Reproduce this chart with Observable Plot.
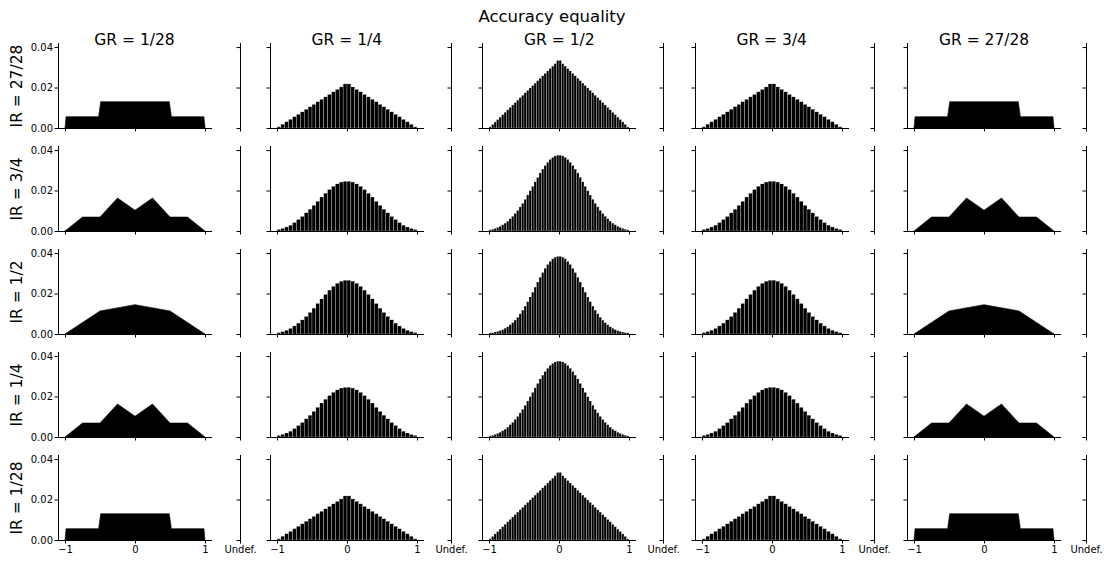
<!DOCTYPE html>
<html>
<head>
<meta charset="utf-8">
<script src="https://cdn.jsdelivr.net/npm/d3@7"></script>
<script src="https://cdn.jsdelivr.net/npm/@observablehq/plot@0.6"></script>
<style>
  html, body { margin: 0; padding: 0; background: white; }
  #chart { position: relative; width: 1104px; height: 561px; font-family: "DejaVu Sans", sans-serif; color: black; overflow: hidden; }
  .lbl { position: absolute; white-space: nowrap; transform: translate(-50%, -50%); line-height: 1; }
</style>
</head>
<body>
<div id="chart"></div>
<script>
// ---------- data ----------
const chartTitle = "Accuracy equality";
const grLabels = ["1/28", "1/4", "1/2", "3/4", "27/28"];
const irLabels = ["27/28", "3/4", "1/2", "1/4", "1/28"];
const undefLabel = "Undef.";
const xTicks = [-1, 0, 1];
const yTicks = [0, 0.02, 0.04];

// GR = 1/28 (and 27/28): outline of the densely binned histogram
const narrowGR_extremeIR_x = [-1, -0.985, -0.52, -0.49, 0.49, 0.52, 0.985, 1];
const narrowGR_extremeIR_y = [0, 0.0056, 0.0056, 0.0130, 0.0130, 0.0056, 0.0056, 0];
const narrowGR_midIR_x = [-1, -0.75, -0.5, -0.25, 0, 0.25, 0.5, 0.75, 1];
const narrowGR_midIR_y = [0, 0.0069, 0.0069, 0.0163, 0.0103, 0.0163, 0.0069, 0.0069, 0];
const narrowGR_evenIR_x = [-1, -0.5, 0, 0.5, 1];
const narrowGR_evenIR_y = [0, 0.0114, 0.0145, 0.0114, 0];

// GR = 1/4 (and 3/4): 36 bins on [-1, 1]
const quarterGR_extremeIR = [
  0.0006,0.0019,0.0031,0.0043,0.0056,0.0068,0.0080,0.0093,0.0105,0.0117,0.0130,0.0142,0.0154,0.0166,0.0179,0.0191,0.0203,0.0218,
  0.0218,0.0203,0.0191,0.0179,0.0166,0.0154,0.0142,0.0130,0.0117,0.0105,0.0093,0.0080,0.0068,0.0056,0.0043,0.0031,0.0019,0.0006];
const quarterGR_midIR = [
  0.0008,0.0013,0.0020,0.0029,0.0042,0.0057,0.0072,0.0090,0.0108,0.0127,0.0147,0.0168,0.0187,0.0205,0.0221,0.0233,0.0242,0.0246,
  0.0246,0.0242,0.0233,0.0221,0.0205,0.0187,0.0168,0.0147,0.0127,0.0108,0.0090,0.0072,0.0057,0.0042,0.0029,0.0020,0.0013,0.0008];
const quarterGR_evenIR = [
  0.0007,0.0012,0.0019,0.0028,0.0040,0.0054,0.0070,0.0087,0.0107,0.0128,0.0151,0.0174,0.0196,0.0217,0.0236,0.0251,0.0261,0.0266,
  0.0266,0.0261,0.0251,0.0236,0.0217,0.0196,0.0174,0.0151,0.0128,0.0107,0.0087,0.0070,0.0054,0.0040,0.0028,0.0019,0.0012,0.0007];

// GR = 1/2: 56 bins on [-1, 1]
const halfGR_extremeIR = [
  0.0006,0.0018,0.0030,0.0042,0.0054,0.0066,0.0078,0.0090,0.0102,0.0114,0.0126,0.0138,0.0150,0.0162,
  0.0174,0.0186,0.0198,0.0210,0.0222,0.0234,0.0246,0.0258,0.0270,0.0282,0.0294,0.0306,0.0318,0.0334,
  0.0334,0.0318,0.0306,0.0294,0.0282,0.0270,0.0258,0.0246,0.0234,0.0222,0.0210,0.0198,0.0186,0.0174,
  0.0162,0.0150,0.0138,0.0126,0.0114,0.0102,0.0090,0.0078,0.0066,0.0054,0.0042,0.0030,0.0018,0.0006];
const halfGR_midIR = [
  0.0006,0.0009,0.0013,0.0018,0.0024,0.0031,0.0039,0.0049,0.0061,0.0073,0.0087,0.0102,0.0119,0.0137,
  0.0157,0.0178,0.0199,0.0221,0.0243,0.0265,0.0287,0.0306,0.0324,0.0340,0.0354,0.0364,0.0371,0.0375,
  0.0375,0.0371,0.0364,0.0354,0.0340,0.0324,0.0306,0.0287,0.0265,0.0243,0.0221,0.0199,0.0178,0.0157,
  0.0137,0.0119,0.0102,0.0087,0.0073,0.0061,0.0049,0.0039,0.0031,0.0024,0.0018,0.0013,0.0009,0.0006];
const halfGR_evenIR = [
  0.0006,0.0007,0.0010,0.0013,0.0017,0.0022,0.0029,0.0036,0.0046,0.0056,0.0069,0.0083,0.0100,0.0118,
  0.0138,0.0160,0.0183,0.0207,0.0232,0.0257,0.0281,0.0304,0.0325,0.0344,0.0359,0.0372,0.0380,0.0384,
  0.0384,0.0380,0.0372,0.0359,0.0344,0.0325,0.0304,0.0281,0.0257,0.0232,0.0207,0.0183,0.0160,0.0138,
  0.0118,0.0100,0.0083,0.0069,0.0056,0.0046,0.0036,0.0029,0.0022,0.0017,0.0013,0.0010,0.0007,0.0006];

// Undefined counts (all zero)
const undefValues = [0, 0, 0, 0, 0];

// ---------- lookup tables built from the arrays ----------
const narrowShapes = [
  narrowGR_extremeIR_x.map((x, i) => ({x, y: narrowGR_extremeIR_y[i]})),
  narrowGR_midIR_x.map((x, i) => ({x, y: narrowGR_midIR_y[i]})),
  narrowGR_evenIR_x.map((x, i) => ({x, y: narrowGR_evenIR_y[i]}))
];
const quarterShapes = [quarterGR_extremeIR, quarterGR_midIR, quarterGR_evenIR];
const halfShapes = [halfGR_extremeIR, halfGR_midIR, halfGR_evenIR];
const colKind = [0, 1, 2, 1, 0];   // which GR family
const rowKind = [0, 1, 2, 1, 0];   // which IR family

function toBins(vals) {
  const n = vals.length, w = 2 / n;
  return vals.map((v, i) => ({x1: -1 + i * w, x2: -1 + (i + 1) * w, y: v}));
}

// ---------- layout ----------
const mainSpineX = [57.5, 269.9, 482.3, 694.7, 907.1];
const undefSpineX = [240, 451.4, 662.8, 874.2, 1085.6];
const rowBaseY = [128, 231, 334, 437, 540];
const plotH = 85, plotW = 154;
const mT = 4, mB = 18, mL = 40, mR = 4;

const baseStyle = {background: "transparent", overflow: "visible", fontFamily: "DejaVu Sans, sans-serif", fontSize: "10px", color: "black"};
const minusFmt = d => (d < 0 ? "\u2212" + Math.abs(d) : String(d));
const blank = () => "";

const chart = document.getElementById("chart");

function place(el, left, top) {
  el.style.position = "absolute";
  el.style.left = left + "px";
  el.style.top = top + "px";
  chart.appendChild(el);
}

for (let ri = 0; ri < 5; ri++) {
  for (let ci = 0; ci < 5; ci++) {
    const bottom = ri === 4, left = ci === 0;
    const kind = colKind[ci], rk = rowKind[ri];
    const marks = [];
    if (kind === 0) {
      marks.push(Plot.areaY(narrowShapes[rk], {x: "x", y: "y", fill: "black", stroke: "black", strokeWidth: 0.6}));
    } else {
      const vals = kind === 1 ? quarterShapes[rk] : halfShapes[rk];
      marks.push(Plot.rectY(toBins(vals), {x1: "x1", x2: "x2", y: "y", fill: "black", stroke: "white", strokeWidth: 0.3, strokeOpacity: 0.9}));
    }
    marks.push(Plot.ruleX([-1.1], {stroke: "black", strokeWidth: 1}));
    marks.push(Plot.ruleY([0], {stroke: "black", strokeWidth: 1}));
    marks.push(Plot.axisY({ticks: yTicks, tickSize: 3.5, tickPadding: 2, tickFormat: left ? (d => d.toFixed(2)) : blank, label: null}));
    marks.push(Plot.axisX({ticks: xTicks, tickSize: 3.5, tickPadding: 2, tickFormat: bottom ? minusFmt : blank, label: null}));
    const svg = Plot.plot({
      width: mL + plotW + mR, height: mT + plotH + mB,
      marginLeft: mL, marginRight: mR, marginTop: mT, marginBottom: mB,
      x: {domain: [-1.1, 1.1], label: null},
      y: {domain: [0, 0.042], label: null},
      style: baseStyle,
      marks
    });
    place(svg, mainSpineX[ci] - mL, rowBaseY[ri] - plotH - mT);

    // undefined-value panel
    const uw = 60, ul = 30;
    const usvg = Plot.plot({
      width: uw, height: mT + plotH + mB,
      marginLeft: ul, marginRight: uw - ul, marginTop: mT, marginBottom: mB,
      x: {type: "point", domain: [undefLabel], range: [ul, ul], label: null},
      y: {domain: [0, 0.042], label: null},
      style: baseStyle,
      marks: [
        Plot.ruleX([undefLabel], {stroke: "black", strokeWidth: 1}),
        Plot.dot([{k: undefLabel, v: undefValues[ci]}], {x: "k", y: "v", r: 0}),
        Plot.axisY({ticks: yTicks, tickSize: 3.5, tickPadding: 2, tickFormat: blank, label: null}),
        Plot.axisX({tickSize: 3.5, tickPadding: 2, tickFormat: bottom ? (d => d) : blank, label: null})
      ]
    });
    place(usvg, undefSpineX[ci] - ul, rowBaseY[ri] - plotH - mT);
  }
}

// ---------- texts ----------
function label(text, x, y, size, rotate) {
  const d = document.createElement("div");
  d.className = "lbl";
  d.textContent = text;
  d.style.left = x + "px";
  d.style.top = y + "px";
  d.style.fontSize = size + "px";
  if (rotate) d.style.transform = "translate(-50%, -50%) rotate(-90deg)";
  chart.appendChild(d);
}
label(chartTitle, 552, 17, 16.5);
grLabels.forEach((g, ci) => label("GR = " + g, mainSpineX[ci] + 77, 41, 15.5));
irLabels.forEach((r, ri) => label("IR = " + r, 18, rowBaseY[ri] - 42.5, 15.5, true));
</script>
</body>
</html>
